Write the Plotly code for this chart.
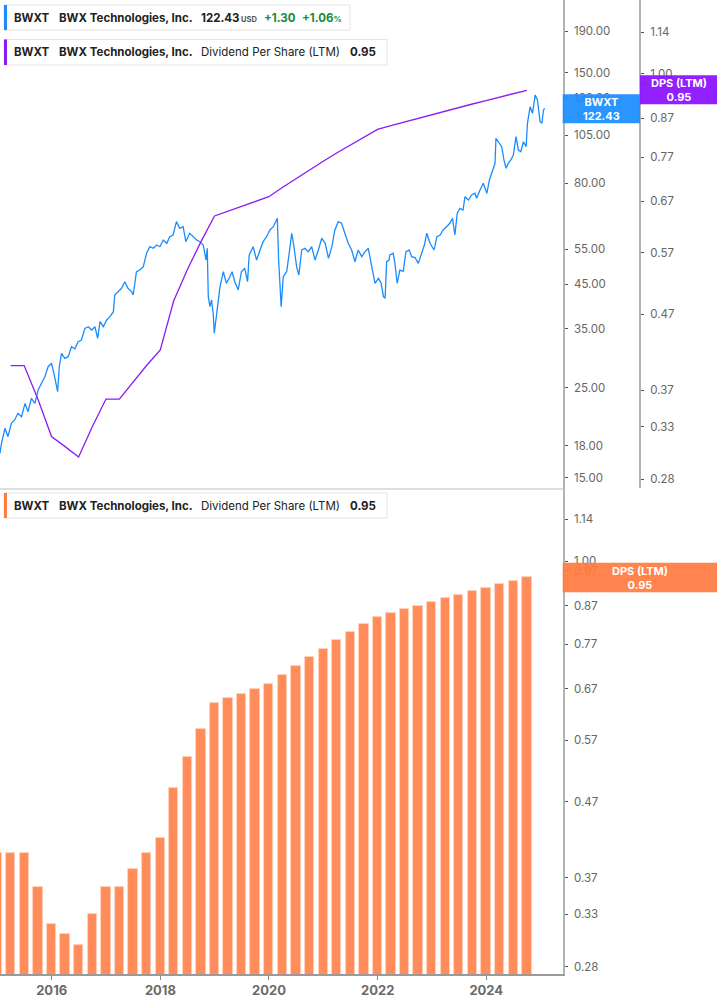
import plotly.graph_objects as go

# ---------------- data ----------------
price_dates = [
    "2015-01-18", "2015-01-29", "2015-02-21", "2015-03-13", "2015-04-05", "2015-04-27", "2015-05-19",
    "2015-06-12", "2015-07-06", "2015-07-26", "2015-08-18", "2015-09-10", "2015-10-02", "2015-10-24",
    "2015-11-16", "2015-12-08", "2015-12-31", "2016-01-16", "2016-01-29", "2016-02-10", "2016-02-21",
    "2016-03-07", "2016-03-29", "2016-04-21", "2016-05-13", "2016-06-05", "2016-06-27", "2016-07-19",
    "2016-08-11", "2016-09-03", "2016-09-26", "2016-10-18", "2016-11-05", "2016-11-21", "2016-12-13",
    "2017-01-05", "2017-01-27", "2017-02-19", "2017-02-28", "2017-03-22", "2017-04-15", "2017-05-07",
    "2017-05-28", "2017-06-21", "2017-07-02", "2017-07-24", "2017-08-16", "2017-09-08", "2017-09-30",
    "2017-10-22", "2017-11-14", "2017-12-07", "2017-12-29", "2018-01-20", "2018-02-13", "2018-03-05",
    "2018-03-27", "2018-04-19", "2018-05-11", "2018-06-03", "2018-06-21", "2018-07-17", "2018-08-09",
    "2018-09-02", "2018-09-24", "2018-10-16", "2018-11-04", "2018-11-12", "2018-11-19", "2018-11-30",
    "2018-12-11", "2018-12-22", "2018-12-29", "2019-01-15", "2019-02-06", "2019-02-28", "2019-03-21",
    "2019-04-13", "2019-04-28", "2019-05-16", "2019-06-08", "2019-06-30", "2019-07-22", "2019-08-10",
    "2019-08-21", "2019-09-17", "2019-10-10", "2019-11-02", "2019-11-23", "2019-12-16", "2020-01-08",
    "2020-01-30", "2020-02-18", "2020-02-26", "2020-03-06", "2020-03-14", "2020-03-23", "2020-04-06",
    "2020-04-29", "2020-05-16", "2020-06-02", "2020-06-17", "2020-07-05", "2020-07-20", "2020-08-08",
    "2020-08-30", "2020-09-22", "2020-10-14", "2020-11-06", "2020-11-28", "2020-12-21", "2021-01-13",
    "2021-02-04", "2021-02-27", "2021-03-19", "2021-04-11", "2021-05-03", "2021-05-25", "2021-06-17",
    "2021-07-10", "2021-08-01", "2021-08-23", "2021-09-16", "2021-10-08", "2021-10-30", "2021-11-22",
    "2021-12-14", "2022-01-06", "2022-01-24", "2022-02-09", "2022-02-20", "2022-03-02", "2022-03-19",
    "2022-03-24", "2022-04-15", "2022-04-27", "2022-05-12", "2022-05-30", "2022-06-22", "2022-07-10",
    "2022-08-01", "2022-08-17", "2022-09-09", "2022-10-01", "2022-10-24", "2022-11-11", "2022-11-27",
    "2022-12-19", "2023-01-15", "2023-02-03", "2023-02-25", "2023-03-17", "2023-04-09", "2023-05-01",
    "2023-05-19", "2023-06-04", "2023-06-20", "2023-07-08", "2023-07-29", "2023-08-11", "2023-09-03",
    "2023-09-25", "2023-10-17", "2023-10-28", "2023-11-20", "2023-12-12", "2024-01-05", "2024-01-22",
    "2024-02-14", "2024-02-29", "2024-03-06", "2024-03-21", "2024-04-14", "2024-04-29", "2024-05-13",
    "2024-05-28", "2024-06-14", "2024-07-01", "2024-07-19", "2024-08-04", "2024-08-20", "2024-09-07",
    "2024-09-25", "2024-10-04", "2024-10-22", "2024-11-07", "2024-11-25", "2024-12-10", "2024-12-28",
    "2025-01-09", "2025-01-20", "2025-01-28",
]
price_values = [
    17.23, 18.27, 19.87, 18.94, 20.43, 20.83, 21.63,
    21.22, 22.89, 21.83, 23.56, 22.89, 24.70, 25.65,
    26.63, 28.19, 28.74, 27.15, 25.65, 24.46, 28.19,
    30.42, 29.57, 29.84, 31.59, 31.20, 32.50, 32.81,
    35.06, 35.39, 34.73, 35.39, 33.13, 36.41, 35.39,
    36.76, 37.46, 38.54, 42.38, 43.19, 44.02, 45.70,
    44.02, 43.19, 42.38, 48.37, 48.84, 49.77, 53.70,
    55.76, 55.26, 56.30, 55.76, 57.93, 56.85, 59.02,
    59.60, 64.29, 61.92, 62.48, 57.38, 60.18, 58.93,
    57.93, 57.38, 56.30, 51.69, 55.26, 41.97, 39.65,
    41.19, 38.19, 34.08, 38.19, 44.43, 48.37, 45.29,
    47.02, 48.37, 45.70, 43.61, 48.37, 49.32, 45.70,
    53.20, 55.76, 51.69, 54.72, 57.38, 59.02, 61.32,
    62.48, 64.92, 65.54, 51.69, 43.61, 39.65, 47.02,
    48.37, 53.70, 60.18, 55.76, 49.77, 47.48, 54.72,
    55.26, 54.20, 55.76, 51.69, 54.72, 58.50, 56.85,
    52.20, 55.76, 61.32, 64.29, 63.70, 60.18, 56.85,
    54.72, 51.20, 54.72, 52.69, 54.20, 55.26, 49.77,
    45.29, 46.59, 45.29, 41.97, 41.59, 51.20, 51.69,
    53.20, 53.70, 50.74, 45.29, 48.84, 48.50, 54.20,
    54.72, 52.69, 52.40, 50.74, 53.70, 56.30, 60.18,
    56.85, 54.72, 59.02, 59.60, 61.32, 62.48, 63.70,
    65.54, 59.60, 67.43, 69.36, 68.70, 74.10, 72.71,
    74.82, 75.55, 73.42, 76.97, 79.95, 75.55, 81.47,
    86.24, 89.58, 103.25, 101.27, 98.45, 91.29, 87.08,
    89.58, 91.29, 93.91, 104.21, 96.61, 95.70, 101.27,
    98.45, 112.46, 123.60, 119.00, 132.10, 128.40, 113.50,
    112.46, 121.30, 122.43,
]

dps_dates = [
    "2014-12-31",
    "2015-03-31", "2015-06-30", "2015-09-30", "2015-12-31",
    "2016-03-31", "2016-06-30", "2016-09-30", "2016-12-31",
    "2017-03-31", "2017-06-30", "2017-09-30", "2017-12-31",
    "2018-03-31", "2018-06-30", "2018-09-30", "2018-12-31",
    "2019-03-31", "2019-06-30", "2019-09-30", "2019-12-31",
    "2020-03-31", "2020-06-30", "2020-09-30", "2020-12-31",
    "2021-03-31", "2021-06-30", "2021-09-30", "2021-12-31",
    "2022-03-31", "2022-06-30", "2022-09-30", "2022-12-31",
    "2023-03-31", "2023-06-30", "2023-09-30", "2023-12-31",
    "2024-03-31", "2024-06-30", "2024-09-30",
]
dps_values = [
    0.40,
    0.40, 0.40, 0.36, 0.32,
    0.31, 0.30, 0.33, 0.36,
    0.36, 0.38, 0.40, 0.42,
    0.49, 0.54, 0.59, 0.64,
    0.65, 0.66, 0.67, 0.68,
    0.70, 0.72, 0.74, 0.76,
    0.78, 0.80, 0.82, 0.84,
    0.85, 0.86, 0.87, 0.88,
    0.89, 0.90, 0.91, 0.92,
    0.93, 0.94, 0.95,
]

price_ticks = [15, 18, 25, 35, 45, 55, 80, 105, 130, 150, 190]
dps_ticks = [0.28, 0.33, 0.37, 0.47, 0.57, 0.67, 0.77, 0.87, 0.97, 1.00, 1.14]
year_ticks = ["2016-01-01", "2018-01-01", "2020-01-01", "2022-01-01", "2024-01-01"]
year_labels = ["2016", "2018", "2020", "2022", "2024"]

# ---------------- styling ----------------
W, H = 717, 1005
MB = 31
PH = H - MB
FONT = "Inter, Roboto, 'Noto Sans', sans-serif"
BLUE = "#1a8cff"
PURPLE = "#8a1cf5"
ORANGE = "#ff8c5a"
LABEL_ORANGE = "#ff7b3f"
AXIS_GREY = "#b3b3b3"
TICK_TXT = "#666666"
XR = ["2015-01-18 12:00", "2025-05-29"]
XDOM = [0, 562.7 / W]
SPLIT = 486 / PH


def px(x):
    return x / W


def py(y):
    return (PH - y) / PH


fig = go.Figure()

fig.add_trace(go.Scatter(
    x=price_dates, y=price_values, mode="lines",
    line=dict(color=BLUE, width=1.3), xaxis="x", yaxis="y", showlegend=False,
))
fig.add_trace(go.Scatter(
    x=dps_dates[1:], y=dps_values[1:], mode="lines",
    line=dict(color=PURPLE, width=1.3), xaxis="x", yaxis="y2", showlegend=False,
))
fig.add_trace(go.Bar(
    x=dps_dates, y=dps_values, xaxis="x2", yaxis="y3",
    marker=dict(color=ORANGE, line=dict(color="#ffd2bd", width=0.8)),
    width=[62.6 * 86400000] * len(dps_dates), showlegend=False,
))

tickfont = dict(family=FONT, size=11.5, color=TICK_TXT)
common_y = dict(type="log", side="right", showgrid=False, zeroline=False,
                showline=True, linecolor=AXIS_GREY, linewidth=2,
                ticks="outside", ticklen=3, tickwidth=1, tickcolor="#555555",
                tickfont=tickfont, ticklabelstandoff=4)

fig.update_layout(
    width=W, height=H,
    margin=dict(l=0, r=0, t=0, b=MB),
    paper_bgcolor="white", plot_bgcolor="white",
    bargap=0,
    xaxis=dict(domain=XDOM, range=XR, type="date", anchor="y",
               showgrid=False, zeroline=False, showline=True,
               linecolor="#dedede", linewidth=2, showticklabels=False, ticks=""),
    yaxis=dict(domain=[SPLIT, 1], anchor="x", range=[1.1507, 2.3553],
               tickvals=price_ticks, ticktext=[f"{v:.2f}" for v in price_ticks],
               **common_y),
    yaxis2=dict(domain=[SPLIT, 1], overlaying="y", anchor="free", position=640 / W,
                range=[-0.5651, 0.1010],
                tickvals=dps_ticks, ticktext=[f"{v:.2f}" for v in dps_ticks],
                **common_y),
    xaxis2=dict(domain=XDOM, range=XR, type="date", anchor="y3",
                showgrid=False, zeroline=False, showline=True,
                linecolor="#9a9a9a", linewidth=1.5,
                ticks="outside", ticklen=4, tickcolor="#8a8a8a",
                tickvals=year_ticks, ticktext=year_labels,
                tickfont=dict(family=FONT, size=13, color="#6b6b6b", weight="bold")),
    yaxis3=dict(domain=[0, SPLIT], anchor="x2", range=[-0.5627, 0.0997],
                tickvals=dps_ticks, ticktext=[f"{v:.2f}" for v in dps_ticks],
                **common_y),
)

shapes = []
annots = []


def legend_box(x0, y0, x1, y1, color):
    shapes.append(dict(type="rect", xref="paper", yref="paper",
                       x0=px(x0), x1=px(x1), y0=py(y1), y1=py(y0),
                       fillcolor="white", line=dict(color="#e4e4e4", width=1), layer="above"))
    shapes.append(dict(type="rect", xref="paper", yref="paper",
                       x0=px(x0), x1=px(x0 + 3), y0=py(y1), y1=py(y0),
                       fillcolor=color, line=dict(width=0), layer="above"))


def txt(x, y, text, size=11.5, color="#222222", bold=True):
    annots.append(dict(xref="paper", yref="paper", x=px(x), y=py(y), text=text,
                       xanchor="left", yanchor="middle", showarrow=False,
                       font=dict(family=FONT, size=size, color=color,
                                 weight="bold" if bold else "normal")))


# legend 1 (price)
legend_box(4, 5, 350, 30, BLUE)
txt(12, 18, "BWXT")
txt(57, 18, "BWX Technologies, Inc.")
txt(199, 18, "122.43")
txt(239, 19.5, "USD", size=7.5, color="#555555")
txt(262, 18, "+1.30", color="#1b8a3c")
txt(300, 18, "+1.06<span style='font-size:8px'>%</span>", color="#1b8a3c")

# legend 2 (DPS line)
legend_box(4, 39.5, 387, 65, PURPLE)
txt(12, 52, "BWXT")
txt(57, 52, "BWX Technologies, Inc.")
txt(199, 52, "Dividend Per Share (LTM)", bold=False)
txt(348, 52, "0.95")

# legend 3 (DPS bars)
legend_box(4, 493, 387, 518, LABEL_ORANGE)
txt(12, 505.5, "BWXT")
txt(57, 505.5, "BWX Technologies, Inc.")
txt(199, 505.5, "Dividend Per Share (LTM)", bold=False)
txt(348, 505.5, "0.95")


def value_label(x0, x1, y0, y1, color, line1, line2):
    shapes.append(dict(type="rect", xref="paper", yref="paper",
                       x0=px(x0), x1=px(x1), y0=py(y1), y1=py(y0),
                       fillcolor=color, opacity=0.93, line=dict(width=0), layer="above"))
    cx = (x0 + x1) / 2
    annots.append(dict(xref="paper", yref="paper", x=px(cx), y=py((y0 + y1) / 2),
                       text=f"{line1}<br>{line2}", xanchor="center", yanchor="middle",
                       showarrow=False, align="center",
                       font=dict(family=FONT, size=11, color="white", weight="bold")))


value_label(562.7, 640, 94.3, 123.3, BLUE, "BWXT", f"{price_values[-1]:.2f}")
value_label(640, 717, 75.3, 104.3, "#8b10ff", "DPS (LTM)", f"{dps_values[-1]:.2f}")
value_label(562.7, 717, 562.7, 592.3, LABEL_ORANGE, "DPS (LTM)", f"{dps_values[-1]:.2f}")

fig.update_layout(shapes=shapes, annotations=annots)

fig.write_html(
    "out.html",
    config={"displayModeBar": False},
    post_script="document.body.style.margin='0';document.body.style.padding='0';",
)
